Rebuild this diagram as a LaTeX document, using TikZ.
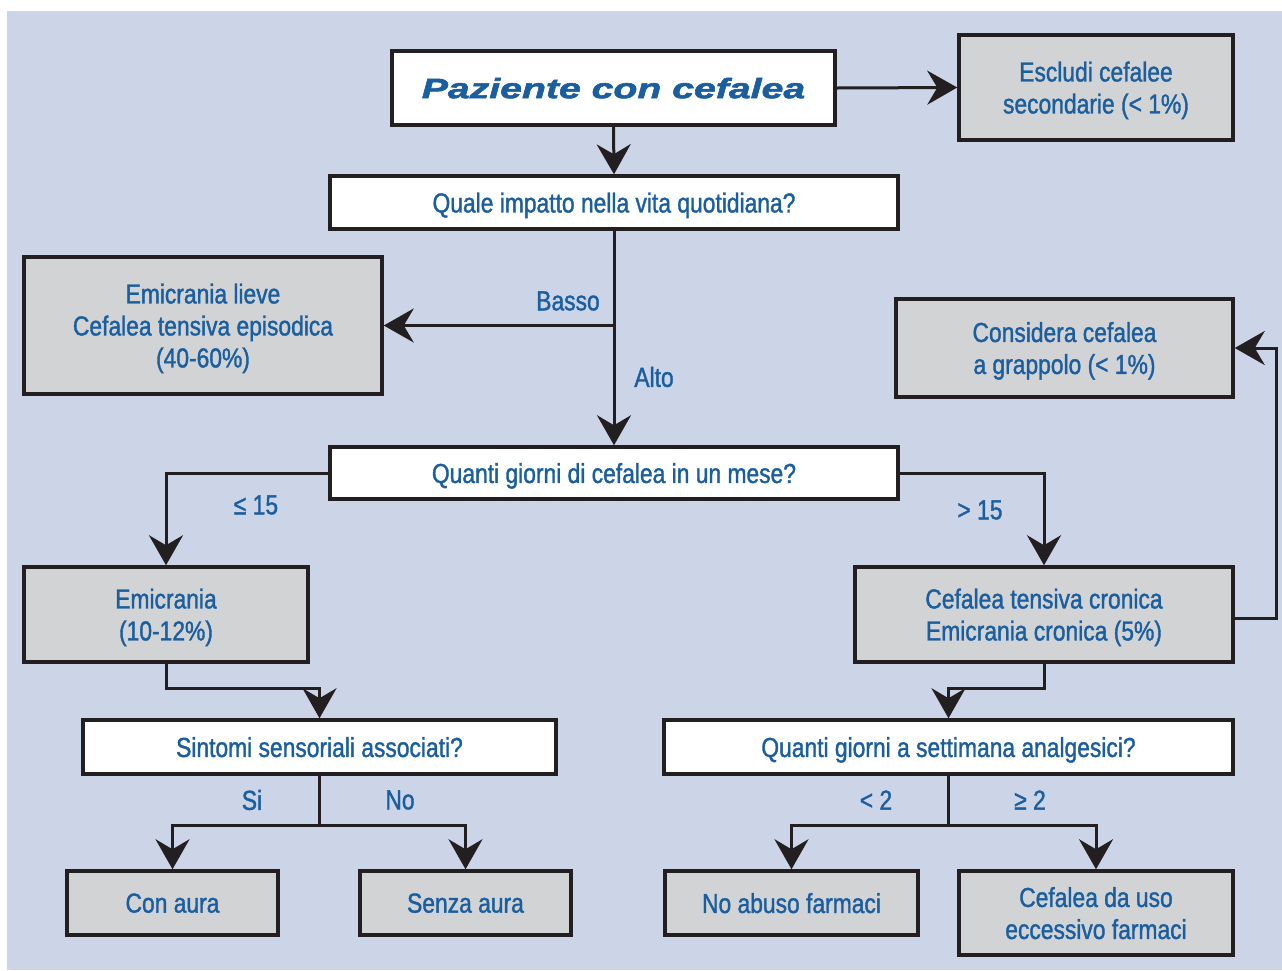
\documentclass[tikz,border=0pt]{standalone}
\usepackage{fontspec}
\setmainfont{Liberation Sans}[FakeStretch=0.83, FakeBold=1.3]
\newfontfamily\titlefont{Liberation Sans}[FakeStretch=1.4, FakeBold=2.2]
\usetikzlibrary{arrows.meta}
\definecolor{bgblue}{HTML}{CCD5E8}
\definecolor{boxgray}{HTML}{D1D3D4}
\definecolor{txtblue}{HTML}{1B5E9F}
\definecolor{edge}{HTML}{231F20}
\begin{document}
\begin{tikzpicture}[x=1pt,y=-1pt,
  base/.style={draw=edge, line width=3.5pt, align=center, text=txtblue,
    inner sep=0pt, text depth=0pt, font=\fontsize{27.5}{32}\selectfont},
  wbox/.style={base, fill=white},
  gbox/.style={base, fill=boxgray},
  conn/.style={draw=edge, line width=3pt,
    -{Stealth[length=30pt, width=34pt, inset=10pt]}},
  lbl/.style={text=txtblue, inner sep=0pt, font=\fontsize{27.5}{32}\selectfont}
]
\fill[white] (0,0) rectangle (1282,970);
\fill[bgblue] (7,11) rectangle (1282,970);
\useasboundingbox (0,0) rectangle (1282,970);

% nodes
\node[wbox, minimum width=443, minimum height=74] (paz) at (613.5,88)
  {\titlefont\bfseries\itshape\fontsize{28}{30}\selectfont Paziente con cefalea};
\node[gbox, minimum width=274, minimum height=105] (escl) at (1096,87.5)
  {Escludi cefalee\\secondarie (< 1\%)};
\node[wbox, minimum width=568, minimum height=53] (quale) at (614,202.5)
  {Quale impatto nella vita quotidiana?};
\node[gbox, minimum width=358, minimum height=137] (lieve) at (203,325.5)
  {Emicrania lieve\\Cefalea tensiva episodica\\(40-60\%)};
\node[gbox, minimum width=337, minimum height=98] (cons) at (1064.5,348)
  {Considera cefalea\\a grappolo (< 1\%)};
\node[wbox, minimum width=568, minimum height=52] (quanti) at (614,473)
  {Quanti giorni di cefalea in un mese?};
\node[gbox, minimum width=284, minimum height=95] (emic) at (166,614.5)
  {Emicrania\\(10-12\%)};
\node[gbox, minimum width=378, minimum height=95] (cron) at (1044,614.5)
  {Cefalea tensiva cronica\\Emicrania cronica (5\%)};
\node[wbox, minimum width=473, minimum height=54] (sint) at (319.5,747)
  {Sintomi sensoriali associati?};
\node[wbox, minimum width=569, minimum height=54] (sett) at (948.5,747)
  {Quanti giorni a settimana analgesici?};
\node[gbox, minimum width=211, minimum height=64] (con) at (172.5,903)
  {Con aura};
\node[gbox, minimum width=211, minimum height=64] (senza) at (465.5,903)
  {Senza aura};
\node[gbox, minimum width=253, minimum height=64] (noab) at (791.5,903)
  {No abuso farmaci};
\node[gbox, minimum width=274, minimum height=84] (uso) at (1096,913)
  {Cefalea da uso\\eccessivo farmaci};

% connectors
\draw[conn] (paz.east) -- (escl.west);
\draw[conn] (paz.south) -- (quale.north);
\draw[conn] (quale.south) -- (quanti.north);
\draw[conn] (quale.south |- lieve.east) -- (lieve.east);
\draw[conn] (quanti.west) -| (emic.north);
\draw[conn] (quanti.east) -| (cron.north);
\draw[conn] ([yshift=-4pt]cron.east) -- ++(42,0) |- (cons.east);
\draw[conn] (emic.south) -- ++(0,25) -| (sint.north);
\draw[conn] (cron.south) -- ++(0,25) -| (sett.north);
\draw[conn] (sint.south) -- ++(0,50) coordinate (sb) -| (con.north);
\draw[conn] (sb) -| (senza.north);
\draw[conn] (sett.south) -- ++(0,50) coordinate (tb) -| (noab.north);
\draw[conn] (tb) -| (uso.north);

% labels
\node[lbl] (lbasso) at (568,301) {Basso};
\node[lbl] (lalto) at (654,377) {Alto};
\node[lbl] (lle) at (256,505) {≤ 15};
\node[lbl] (lgt) at (980,510) {> 15};
\node[lbl] (lsi) at (252,800) {Si};
\node[lbl] (lno) at (400,800) {No};
\node[lbl] (llt) at (876,800) {< 2};
\node[lbl] (lge) at (1030,800) {≥ 2};
\end{tikzpicture}
\end{document}
